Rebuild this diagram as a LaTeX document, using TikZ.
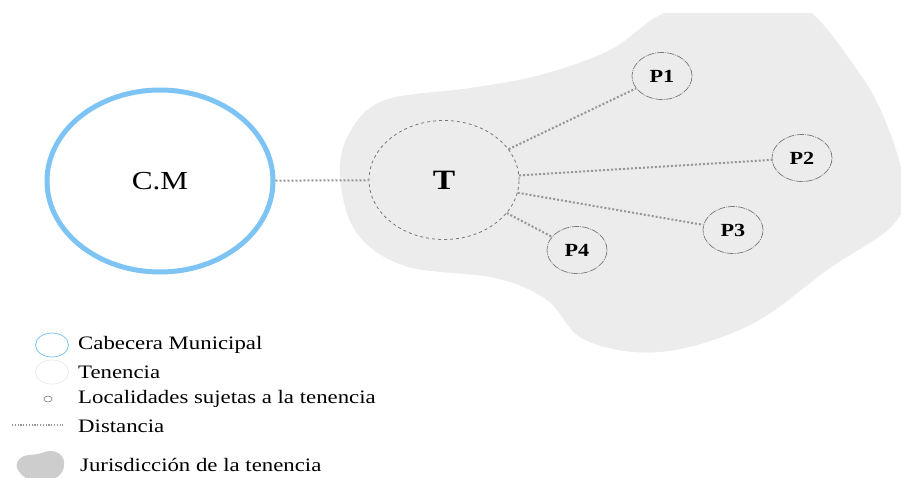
\documentclass[tikz,border=0pt]{standalone}
\usepackage{fontspec}
\setmainfont{Liberation Serif}[FakeStretch=1.2]
\usetikzlibrary{shapes.geometric}
\definecolor{cmblue}{RGB}{125,196,245}
\definecolor{blobgray}{RGB}{236,236,236}
\definecolor{leggray}{RGB}{205,205,205}
\definecolor{linegray}{RGB}{150,150,150}
\definecolor{circgray}{RGB}{120,120,120}
\tikzset{
  cmnode/.style={ellipse, draw=cmblue, line width=5pt, inner sep=0pt,
    minimum width=226pt, minimum height=182pt, font=\fontsize{26}{30}\selectfont},
  tnode/.style={ellipse, draw=circgray, dashed, line width=0.8pt, inner sep=0pt,
    minimum width=150pt, minimum height=119pt, font=\fontsize{28}{30}\selectfont\bfseries},
  pnode/.style={ellipse, draw=circgray, dash pattern=on 7pt off 1pt on 1pt off 1pt, line width=0.7pt,
    inner sep=0pt, minimum width=60pt, minimum height=47pt, font=\fontsize{18.5}{21}\selectfont\bfseries},
  distline/.style={draw=linegray, line width=2pt, dash pattern=on 2pt off 2pt},
  legtext/.style={anchor=west, inner sep=0pt, font=\fontsize{19}{22}\selectfont},
}
\begin{document}
\begin{tikzpicture}[x=1pt,y=-1pt]
\useasboundingbox (0,0) rectangle (901,477);
% jurisdiction blob
\begin{scope}
\clip (0,13) rectangle (901,477);
\fill[blobgray] plot[smooth cycle, tension=0.6] coordinates {
 (340,175) (350,132) (385,100) (470,88) (540,75) (610,50) (660,15) (720,-5)
 (800,5) (855,67) (885,120) (904,185) (893,225) (830,268) (750,325) (660,352)
 (585,340) (547,300) (495,278) (405,266) (356,232)};
\end{scope}
% nodes
\node[cmnode] (cm) at (160,181) {C.M};
\node[tnode] (t) at (444,180) {T};
\node[pnode] (p1) at (662,76) {P1};
\node[pnode] (p2) at (802,158) {P2};
\node[pnode] (p3) at (733,230) {P3};
\node[pnode] (p4) at (577,250) {P4};
% connectors
\draw[distline] (cm) -- (t);
\draw[distline] (t) -- (p1);
\draw[distline] (t) -- (p2);
\draw[distline] (t) -- (p3);
\draw[distline] (t) -- (p4);
% legend
\node[ellipse, draw=cmblue, line width=0.8pt, minimum width=33pt, minimum height=24pt, inner sep=0pt] (l1) at (52,345) {};
\node[ellipse, draw=blobgray, line width=0.8pt, minimum width=33pt, minimum height=24pt, inner sep=0pt] (l2) at (52,372) {};
\node[ellipse, draw=circgray, line width=0.6pt, minimum width=8pt, minimum height=6pt, inner sep=0pt] (l3) at (48,399) {};
\coordinate (l4a) at (12,425);
\coordinate (l4b) at (63,425);
\draw[distline, line width=1.2pt, dash pattern=on 1.2pt off 1.6pt] (l4a) -- (l4b);
\fill[leggray] plot[smooth cycle, tension=0.7] coordinates {
 (17,468) (22,457) (38,454) (52,451) (63,458) (62,472) (50,480) (30,480)};
\node[legtext] (t1) at (78,345) {Cabecera Municipal};
\node[legtext] (t2) at (78,372) {Tenencia};
\node[legtext] (t3) at (78,399) {Localidades sujetas a la tenencia};
\node[legtext] (t4) at (78,426) {Distancia};
\node[legtext] (t5) at (80,465) {Jurisdicción de la tenencia};
\end{tikzpicture}
\end{document}
